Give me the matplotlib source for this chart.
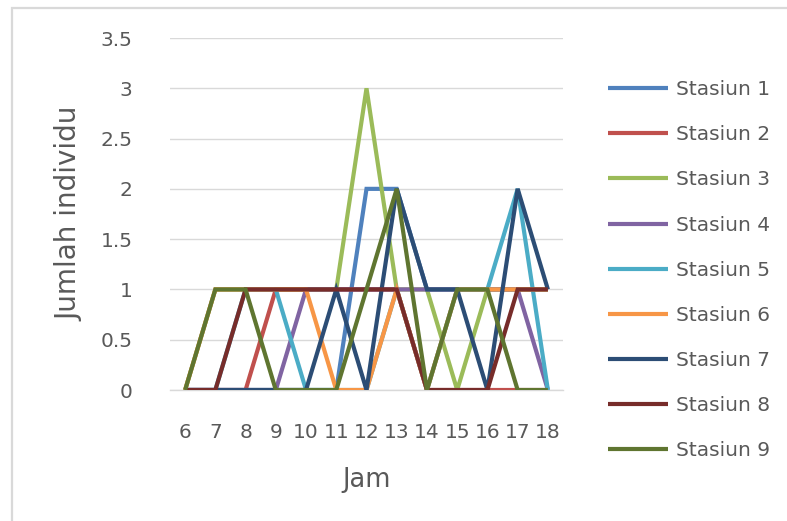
import matplotlib
matplotlib.use("Agg")
import matplotlib.pyplot as plt
from matplotlib.patches import Rectangle

# Hours of observation and individual counts per station
hours = [6, 7, 8, 9, 10, 11, 12, 13, 14, 15, 16, 17, 18]
stasiun_1 = [0, 0, 0, 0, 0, 0, 2, 2, 1, 1, 1, 1, 1]
stasiun_2 = [0, 0, 0, 1, 1, 1, 1, 1, 0, 0, 0, 0, 0]
stasiun_3 = [0, 1, 1, 1, 1, 1, 3, 1, 1, 0, 1, 1, 1]
stasiun_4 = [0, 0, 0, 0, 1, 1, 1, 1, 1, 1, 1, 1, 0]
stasiun_5 = [0, 0, 1, 1, 0, 0, 0, 1, 0, 1, 1, 2, 0]
stasiun_6 = [0, 1, 1, 1, 1, 0, 0, 1, 0, 1, 1, 1, 1]
stasiun_7 = [0, 0, 0, 0, 0, 1, 0, 2, 1, 1, 0, 2, 1]
stasiun_8 = [0, 0, 1, 1, 1, 1, 1, 1, 0, 0, 0, 1, 1]
stasiun_9 = [0, 1, 1, 0, 0, 0, 1, 2, 0, 1, 1, 0, 0]

series_names = ["Stasiun 1", "Stasiun 2", "Stasiun 3", "Stasiun 4", "Stasiun 5",
                "Stasiun 6", "Stasiun 7", "Stasiun 8", "Stasiun 9"]
series_values = [stasiun_1, stasiun_2, stasiun_3, stasiun_4, stasiun_5,
                 stasiun_6, stasiun_7, stasiun_8, stasiun_9]
colors = ["#4F81BD", "#C0504D", "#9BBB59", "#8064A2", "#4BACC6",
          "#F79646", "#2C4D75", "#772C2A", "#5F7530"]

y_ticks = [0, 0.5, 1, 1.5, 2, 2.5, 3, 3.5]
y_tick_labels = ["0", "0.5", "1", "1.5", "2", "2.5", "3", "3.5"]

TEXT = "#595959"
GRID = "#D9D9D9"
FS = 14.5

plt.rcParams["font.family"] = ["DejaVu Sans"]

W, H = 787, 521
fig = plt.figure(figsize=(W / 100, H / 100), dpi=100)
fig.patch.set_facecolor("white")

# Chart-area frame
fig.patches.append(Rectangle((12 / W, -0.2), 2.0, 1.2 - 8 / H, transform=fig.transFigure,
                             fill=False, edgecolor=GRID, linewidth=1.6, zorder=0))

ax = fig.add_axes([170 / W, 1 - 390 / H, 393 / W, 352 / H])
ax.set_facecolor("none")

positions = list(range(len(hours)))
for name, vals, c in zip(series_names, series_values, colors):
    ax.plot(positions, vals, color=c, linewidth=3.0, label=name,
            solid_joinstyle="miter", solid_capstyle="butt", zorder=3)

ax.set_xlim(-0.5, len(hours) - 0.5)
ax.set_ylim(0, 3.5)
ax.set_yticks(y_ticks)
ax.set_yticklabels(y_tick_labels)
ax.set_xticks(positions)
ax.set_xticklabels([str(h) for h in hours])
ax.tick_params(axis="both", length=0, labelsize=FS, labelcolor=TEXT)
ax.tick_params(axis="y", pad=27)
ax.tick_params(axis="x", pad=24)

ax.grid(axis="y", color=GRID, linewidth=1.0, zorder=0)
ax.set_axisbelow(True)
for s in ["top", "right", "left"]:
    ax.spines[s].set_visible(False)
ax.spines["bottom"].set_color(GRID)
ax.spines["bottom"].set_linewidth(1.0)

ax.set_xlabel("Jam", fontsize=18.5, color=TEXT, labelpad=18)
ax.set_ylabel("Jumlah individu", fontsize=20, color=TEXT, labelpad=12)

leg = ax.legend(loc="upper left", bbox_to_anchor=(600 / W, 1 - 72 / H),
                bbox_transform=fig.transFigure, frameon=False, fontsize=FS,
                handlelength=3.0, handletextpad=0.35, labelspacing=1.3,
                borderaxespad=0)
for t in leg.get_texts():
    t.set_color(TEXT)

fig.savefig("out.png", dpi=100, facecolor="white")
